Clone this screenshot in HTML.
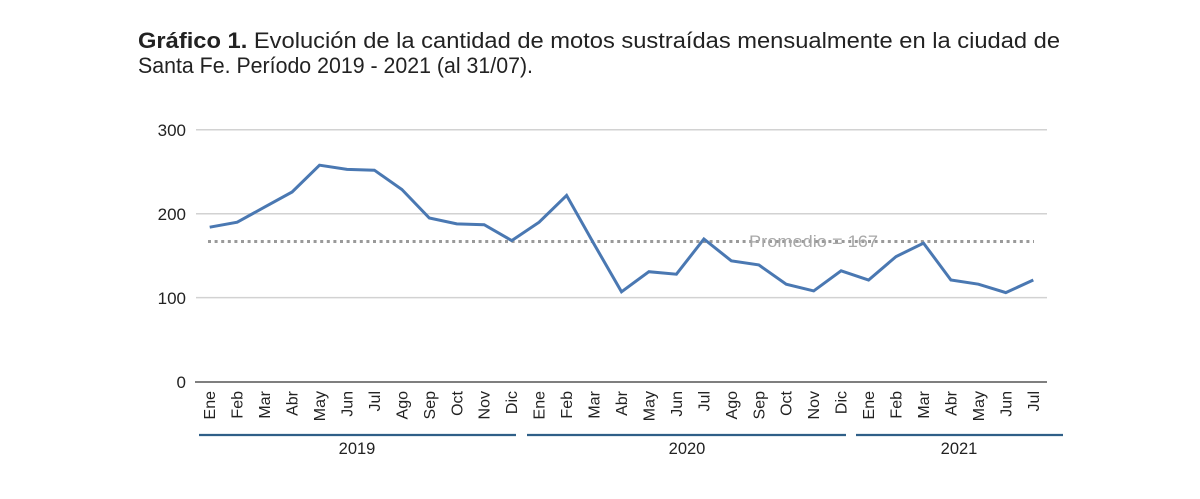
<!DOCTYPE html>
<html><head><meta charset="utf-8"><style>
html,body{margin:0;padding:0;background:#fff;}
svg{display:block;}
</style></head><body>
<svg width="1200" height="499" viewBox="0 0 1200 499" xmlns="http://www.w3.org/2000/svg" font-family="'Liberation Sans', sans-serif">
<rect width="1200" height="499" fill="#fff"/>
<!-- title -->
<text x="138" y="48" font-size="22" fill="#222" textLength="922" lengthAdjust="spacingAndGlyphs"><tspan font-weight="bold">Gráfico 1.</tspan> Evolución de la cantidad de motos sustraídas mensualmente en la ciudad de</text>
<text x="138" y="73" font-size="22" fill="#222" textLength="395" lengthAdjust="spacingAndGlyphs">Santa Fe. Período 2019 - 2021 (al 31/07).</text>
<!-- gridlines -->
<g stroke="#d2d2d2" stroke-width="1.5">
<line x1="196" y1="129.8" x2="1047" y2="129.8"/>
<line x1="196" y1="213.7" x2="1047" y2="213.7"/>
<line x1="196" y1="297.6" x2="1047" y2="297.6"/>
</g>
<line x1="195" y1="382" x2="1047" y2="382" stroke="#555" stroke-width="1.5"/>
<!-- y labels -->
<g font-size="17" fill="#222" text-anchor="end">
<text x="186" y="136">300</text>
<text x="186" y="220">200</text>
<text x="186" y="304">100</text>
<text x="186" y="388">0</text>
</g>
<!-- average -->
<line x1="208" y1="241.5" x2="1034" y2="241.5" stroke="#9a9a9a" stroke-width="3" stroke-dasharray="3 3.6"/>
<text x="749" y="247" font-size="17" fill="#a8a8a8" textLength="129" lengthAdjust="spacingAndGlyphs">Promedio = 167</text>
<!-- series -->
<polyline fill="none" stroke="#4a78b2" stroke-width="3" stroke-linejoin="miter" points="209.7,227.2 237.2,222.2 264.6,207.1 292.1,192.0 319.5,165.2 347.0,169.4 374.4,170.2 401.9,189.5 429.3,218.0 456.8,223.9 484.2,224.7 511.7,240.6 539.1,222.2 566.6,195.4 594.0,244.0 621.5,291.8 648.9,271.7 676.4,274.2 703.9,239.0 731.3,260.8 758.8,264.9 786.2,284.2 813.7,290.9 841.1,270.8 868.6,280.0 896.0,256.6 923.5,243.1 950.9,280.0 978.4,284.2 1005.8,292.6 1033.3,280.0"/>
<!-- month labels -->
<g font-size="16" fill="#222" text-anchor="end">
<text transform="translate(215.2,391) rotate(-90)">Ene</text>
<text transform="translate(242.7,391) rotate(-90)">Feb</text>
<text transform="translate(270.1,391) rotate(-90)">Mar</text>
<text transform="translate(297.6,391) rotate(-90)">Abr</text>
<text transform="translate(325.0,391) rotate(-90)">May</text>
<text transform="translate(352.5,391) rotate(-90)">Jun</text>
<text transform="translate(379.9,391) rotate(-90)">Jul</text>
<text transform="translate(407.4,391) rotate(-90)">Ago</text>
<text transform="translate(434.8,391) rotate(-90)">Sep</text>
<text transform="translate(462.3,391) rotate(-90)">Oct</text>
<text transform="translate(489.7,391) rotate(-90)">Nov</text>
<text transform="translate(517.2,391) rotate(-90)">Dic</text>
<text transform="translate(544.6,391) rotate(-90)">Ene</text>
<text transform="translate(572.1,391) rotate(-90)">Feb</text>
<text transform="translate(599.5,391) rotate(-90)">Mar</text>
<text transform="translate(627.0,391) rotate(-90)">Abr</text>
<text transform="translate(654.4,391) rotate(-90)">May</text>
<text transform="translate(681.9,391) rotate(-90)">Jun</text>
<text transform="translate(709.4,391) rotate(-90)">Jul</text>
<text transform="translate(736.8,391) rotate(-90)">Ago</text>
<text transform="translate(764.3,391) rotate(-90)">Sep</text>
<text transform="translate(791.7,391) rotate(-90)">Oct</text>
<text transform="translate(819.2,391) rotate(-90)">Nov</text>
<text transform="translate(846.6,391) rotate(-90)">Dic</text>
<text transform="translate(874.1,391) rotate(-90)">Ene</text>
<text transform="translate(901.5,391) rotate(-90)">Feb</text>
<text transform="translate(929.0,391) rotate(-90)">Mar</text>
<text transform="translate(956.4,391) rotate(-90)">Abr</text>
<text transform="translate(983.9,391) rotate(-90)">May</text>
<text transform="translate(1011.3,391) rotate(-90)">Jun</text>
<text transform="translate(1038.8,391) rotate(-90)">Jul</text>
</g>
<!-- year bars -->
<g stroke="#2f5f88" stroke-width="2.2">
<line x1="199" y1="435" x2="516" y2="435"/>
<line x1="527" y1="435" x2="846" y2="435"/>
<line x1="856" y1="435" x2="1063" y2="435"/>
</g>
<g font-size="16.5" fill="#222" text-anchor="middle">
<text x="357" y="454">2019</text>
<text x="687" y="454">2020</text>
<text x="959" y="454">2021</text>
</g>
</svg>
</body></html>
